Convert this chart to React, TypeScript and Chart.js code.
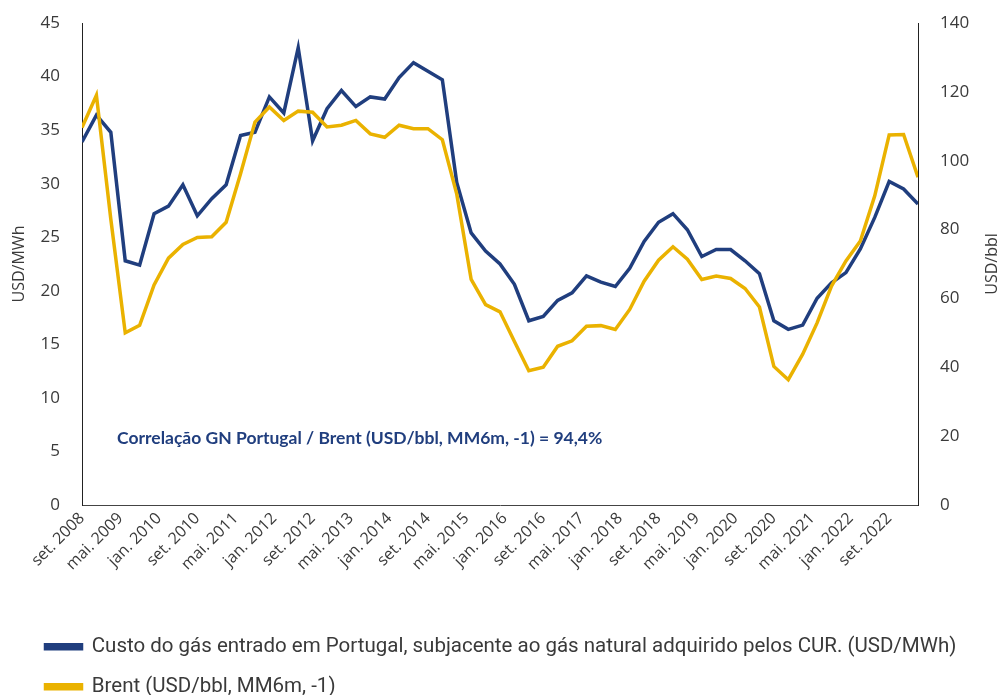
import React, { useEffect, useRef } from 'react';
import { Chart, registerables } from 'chart.js';

Chart.register(...registerables);

// Quarterly observation dates (YYYY-MM)
const quarters = [
  '2008-09', '2008-12',
  '2009-03', '2009-06', '2009-09', '2009-12',
  '2010-03', '2010-06', '2010-09', '2010-12',
  '2011-03', '2011-06', '2011-09', '2011-12',
  '2012-03', '2012-06', '2012-09', '2012-12',
  '2013-03', '2013-06', '2013-09', '2013-12',
  '2014-03', '2014-06', '2014-09', '2014-12',
  '2015-03', '2015-06', '2015-09', '2015-12',
  '2016-03', '2016-06', '2016-09', '2016-12',
  '2017-03', '2017-06', '2017-09', '2017-12',
  '2018-03', '2018-06', '2018-09', '2018-12',
  '2019-03', '2019-06', '2019-09', '2019-12',
  '2020-03', '2020-06', '2020-09', '2020-12',
  '2021-03', '2021-06', '2021-09', '2021-12',
  '2022-03', '2022-06', '2022-09', '2022-12',
  '2023-03',
];

// Custo do gás entrado em Portugal (USD/MWh) - left axis
const gasCost = [
  33.9, 36.4, 34.8, 22.8, 22.4, 27.2, 27.9, 29.9, 27.0, 28.6,
  29.9, 34.5, 34.8, 38.1, 36.6, 42.7, 34.0, 37.0, 38.7, 37.2,
  38.1, 37.9, 39.9, 41.3, 40.5, 39.7, 30.1, 25.4, 23.7, 22.5,
  20.6, 17.2, 17.6, 19.1, 19.8, 21.4, 20.8, 20.4, 22.1, 24.6,
  26.4, 27.2, 25.7, 23.2, 23.85, 23.85, 22.8, 21.6, 17.2, 16.4,
  16.8, 19.3, 20.75, 21.7, 23.9, 26.85, 30.2, 29.5, 28.1,
];

// Brent (USD/bbl, MM6m, -1) - right axis
const brent = [
  109.6, 119.0, 83.0, 50.0, 52.2, 63.9, 71.7, 75.7, 77.7, 77.9,
  82.1, 96.2, 111.2, 115.6, 111.7, 114.4, 114.1, 109.8, 110.3, 111.7,
  107.8, 106.8, 110.3, 109.3, 109.3, 106.1, 90.3, 65.5, 58.2, 56.1,
  47.5, 39.0, 40.0, 46.1, 47.7, 51.9, 52.1, 51.0, 56.8, 65.0,
  71.1, 75.0, 71.4, 65.5, 66.5, 65.8, 62.9, 57.5, 40.25, 36.4,
  43.8, 52.9, 63.6, 70.9, 76.7, 89.8, 107.5, 107.6, 95.2,
];

const tickLabels = [
  'set. 2008', 'mai. 2009', 'jan. 2010', 'set. 2010', 'mai. 2011', 'jan. 2012',
  'set. 2012', 'mai. 2013', 'jan. 2014', 'set. 2014', 'mai. 2015', 'jan. 2016',
  'set. 2016', 'mai. 2017', 'jan. 2018', 'set. 2018', 'mai. 2019', 'jan. 2020',
  'set. 2020', 'mai. 2021', 'jan. 2022', 'set. 2022',
];

const seriesNames = [
  'Custo do gás entrado em Portugal, subjacente ao gás natural adquirido pelos CUR. (USD/MWh)',
  'Brent (USD/bbl, MM6m, -1)',
];

const annotationText = 'Correlação GN Portugal / Brent (USD/bbl, MM6m, -1) = 94,4%';

const ptMonths: Record<string, number> = {
  jan: 1, fev: 2, mar: 3, abr: 4, mai: 5, jun: 6, jul: 7, ago: 8, set: 9, out: 10, nov: 11, dez: 12,
};

const START_YEAR = 2008;
const START_MONTH = 9;
const monthsFrom = (y: number, m: number) => (y - START_YEAR) * 12 + (m - START_MONTH);
const quarterMonth = (q: string) => {
  const [y, m] = q.split('-').map(Number);
  return monthsFrom(y, m);
};
const labelMonth = (l: string) => {
  const [mon, yr] = l.split('. ');
  return monthsFrom(Number(yr), ptMonths[mon]);
};

const tickMonths = tickLabels.map(labelMonth);
const xMax = quarterMonth(quarters[quarters.length - 1]);

const BLUE = '#203E7E';
const YELLOW = '#EAB200';
const TEXT = '#3a3a3a';

export default function App() {
  const canvasRef = useRef<HTMLCanvasElement | null>(null);

  useEffect(() => {
    document.body.style.margin = '0';
    const canvas = canvasRef.current;
    if (!canvas) return;

    const extras = {
      id: 'extras',
      afterLayout(chart: any) {
        const lg = chart.legend;
        if (lg) {
          lg.left += 26;
          lg.top += 12;
          lg.bottom += 12;
        }
      },
      afterDraw(chart: any) {
        const { ctx, scales, chartArea } = chart;
        ctx.save();
        ctx.font = 'bold 17.5px Lato';
        ctx.fillStyle = BLUE;
        ctx.textBaseline = 'middle';
        ctx.textAlign = 'left';
        ctx.fillText(annotationText, scales.x.getPixelForValue(7.3), scales.y.getPixelForValue(6.2));
        // right axis title (reads bottom-to-top)
        ctx.font = '16px "Open Sans"';
        ctx.fillStyle = TEXT;
        ctx.textAlign = 'center';
        ctx.translate(scales.y1.right - 14, (chartArea.top + chartArea.bottom) / 2);
        ctx.rotate(-Math.PI / 2);
        ctx.fillText('USD/bbl', 0, 0);
        ctx.restore();
      },
    };

    const fitVertical = (w: number) => (s: any) => {
      s.width = w;
      s.paddingTop = 0;
      s.paddingBottom = 0;
    };

    const chart = new Chart(canvas, {
      type: 'line',
      data: {
        datasets: [
          {
            label: seriesNames[0],
            data: quarters.map((q, i) => ({ x: quarterMonth(q), y: gasCost[i] })),
            borderColor: BLUE,
            backgroundColor: BLUE,
            borderWidth: 3.5,
            pointRadius: 0,
            tension: 0,
            yAxisID: 'y',
            order: 1,
          },
          {
            label: seriesNames[1],
            data: quarters.map((q, i) => ({ x: quarterMonth(q), y: brent[i] })),
            borderColor: YELLOW,
            backgroundColor: YELLOW,
            borderWidth: 3.5,
            pointRadius: 0,
            tension: 0,
            yAxisID: 'y1',
            order: 0,
          },
        ],
      },
      options: {
        responsive: false,
        animation: false,
        layout: { padding: { top: 23, left: 0, right: 0, bottom: 0 } },
        plugins: {
          tooltip: { enabled: false },
          legend: {
            position: 'bottom',
            align: 'start',
            labels: {
              sort: (a: any, b: any) => a.datasetIndex - b.datasetIndex,
              boxWidth: 36,
              boxHeight: 4,
              padding: 19.5,
              color: TEXT,
              font: { family: 'Roboto', size: 20.5 },
            },
          },
        },
        scales: {
          x: {
            type: 'linear',
            min: 0,
            max: xMax,
            afterBuildTicks: (s: any) => {
              s.ticks = tickMonths.map((v) => ({ value: v }));
            },
            afterFit: (s: any) => {
              s.height = 100;
            },
            ticks: {
              autoSkip: false,
              minRotation: 45,
              maxRotation: 45,
              padding: 4,
              color: TEXT,
              font: { family: 'Open Sans', size: 16 },
              callback: (_v: any, i: number) => tickLabels[i],
            },
            grid: { display: false, drawTicks: false },
            border: { display: true, color: '#444', width: 1 },
          },
          y: {
            position: 'left',
            min: 0,
            max: 45,
            afterFit: fitVertical(82),
            ticks: {
              stepSize: 5,
              padding: 22,
              color: TEXT,
              font: { family: 'Open Sans', size: 17 },
            },
            title: {
              display: true,
              text: 'USD/MWh',
              color: TEXT,
              font: { family: 'Open Sans', size: 16 },
              padding: { top: 10, bottom: 0 },
            },
            grid: { display: false, drawTicks: false },
            border: { display: true, color: '#222', width: 1 },
          },
          y1: {
            position: 'right',
            min: 0,
            max: 140,
            afterFit: fitVertical(88),
            ticks: {
              stepSize: 20,
              padding: 22,
              color: TEXT,
              font: { family: 'Open Sans', size: 17 },
            },
            grid: { display: false, drawTicks: false },
            border: { display: true, color: '#222', width: 1 },
          },
        },
      },
      plugins: [extras],
    } as any);

    return () => chart.destroy();
  }, []);

  return (
    <div style={{ width: 1006, height: 695 }}>
      <canvas ref={canvasRef} width={1006} height={695} style={{ display: 'block' }} />
    </div>
  );
}
